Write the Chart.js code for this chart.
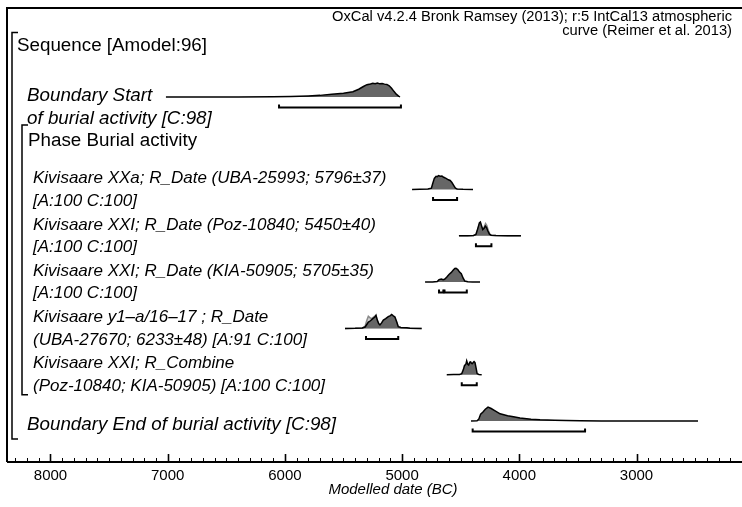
<!DOCTYPE html>
<html>
<head>
<meta charset="utf-8">
<script src="https://cdn.jsdelivr.net/npm/chart.js@4.4.0/dist/chart.umd.min.js"></script>
<style>
  body { margin: 0; background: #fff; }
  #grafico { display: block; }
</style>
</head>
<body>
<canvas id="grafico" width="742" height="507"></canvas>
<script>
// x axis (years BC, reversed)
const xTicks = [8000, 7000, 6000, 5000, 4000, 3000];
const xMin = 2100;
const xMax = 8371;

// row of every item (0 = Boundary Start ... 7 = Boundary End)
const itemRows = [0, 2, 3, 4, 5, 6, 7];
const itemNames = [
  ["Boundary Start", "of burial activity [C:98]"],
  ["Kivisaare XXa; R_Date (UBA-25993; 5796±37)", "[A:100 C:100]"],
  ["Kivisaare XXI; R_Date (Poz-10840; 5450±40)", "[A:100 C:100]"],
  ["Kivisaare XXI; R_Date (KIA-50905; 5705±35)", "[A:100 C:100]"],
  ["Kivisaare y1–a/16–17 ; R_Date", "(UBA-27670; 6233±48) [A:91 C:100]"],
  ["Kivisaare XXI; R_Combine", "(Poz-10840; KIA-50905) [A:100 C:100]"],
  ["Boundary End of burial activity [C:98]"]
];
const sequenceName = "Sequence [Amodel:96]";
const phaseName = "Phase Burial activity";
const headerLines = ["OxCal v4.2.4 Bronk Ramsey (2013); r:5 IntCal13 atmospheric", "curve (Reimer et al. 2013)"];
const axisTitle = "Modelled date (BC)";

// posterior curves [year BC, relative density]
const startDist = [[7015,0],[6400,0],[6100,0.01],[5950,0.03],[5800,0.07],[5700,0.11],[5600,0.19],[5500,0.27],[5420,0.37],[5370,0.55],[5330,0.75],[5300,0.88],[5270,0.93],[5250,0.98],[5230,0.95],[5210,1],[5190,0.94],[5170,0.97],[5150,0.92],[5130,0.9],[5110,0.8],[5090,0.62],[5070,0.4],[5050,0.2],[5030,0.06],[5018,0]];
const xxaDist = [[4915,0],[4850,0.01],[4780,0.03],[4750,0.1],[4740,0.4],[4725,0.8],[4710,0.95],[4700,0.92],[4690,1],[4675,0.95],[4660,0.97],[4645,0.88],[4625,0.8],[4605,0.7],[4590,0.65],[4575,0.5],[4560,0.3],[4545,0.1],[4530,0.04],[4480,0.01],[4395,0]];
const pozDist = [[4515,0],[4440,0.01],[4390,0.03],[4370,0.1],[4355,0.5],[4340,0.95],[4332,1],[4322,0.7],[4312,0.45],[4300,0.55],[4290,0.7],[4280,0.6],[4268,0.35],[4255,0.12],[4240,0.04],[4200,0.02],[4100,0.01],[3986,0]];
const kiaDist = [[4804,0],[4740,0.01],[4700,0.05],[4685,0.18],[4665,0.22],[4650,0.17],[4638,0.2],[4620,0.35],[4600,0.55],[4580,0.7],[4565,0.85],[4550,0.98],[4540,1],[4525,0.9],[4510,0.72],[4495,0.6],[4480,0.3],[4465,0.08],[4440,0.02],[4400,0.01],[4335,0]];
const y1Dist = [[5487,0],[5400,0.01],[5340,0.03],[5316,0.1],[5300,0.3],[5288,0.45],[5270,0.55],[5250,0.7],[5235,0.8],[5223,0.95],[5212,0.6],[5200,0.35],[5189,0.25],[5175,0.4],[5160,0.6],[5140,0.7],[5118,0.85],[5100,0.92],[5089,1],[5075,0.9],[5061,0.82],[5045,0.45],[5033,0.12],[5010,0.06],[4960,0.04],[4933,0.02],[4833,0]];
const combDist = [[4619,0],[4560,0.01],[4510,0.02],[4491,0.08],[4478,0.35],[4468,0.65],[4455,0.78],[4449,1],[4440,0.75],[4432,0.7],[4422,0.9],[4415,0.92],[4408,0.82],[4401,0.8],[4392,0.9],[4386,0.95],[4378,0.88],[4369,0.5],[4360,0.08],[4345,0.02],[4321,0]];
const endDist = [[4412,0],[4360,0.02],[4345,0.15],[4330,0.5],[4310,0.65],[4290,0.85],[4267,1],[4240,0.9],[4210,0.75],[4164,0.52],[4100,0.38],[4050,0.3],[3994,0.22],[3900,0.13],[3823,0.09],[3700,0.05],[3600,0.03],[3481,0.02],[3300,0.01],[3000,0.005],[2475,0]];

// unmodelled (light grey) curves, only where they show
const pozGrey = [[4515,0],[4440,0.01],[4390,0.03],[4370,0.1],[4355,0.45],[4340,0.85],[4332,0.9],[4322,0.65],[4312,0.45],[4300,0.65],[4288,0.88],[4278,0.75],[4265,0.4],[4252,0.12],[4240,0.04],[4200,0.02],[4100,0.01],[3986,0]];
const y1Grey = [[5487,0],[5400,0.01],[5340,0.03],[5316,0.15],[5300,0.6],[5288,0.88],[5275,0.78],[5260,0.7],[5240,0.85],[5223,0.92],[5212,0.6],[5200,0.3],[5189,0.2],[5175,0.32],[5160,0.5],[5140,0.6],[5118,0.72],[5100,0.78],[5089,0.85],[5075,0.78],[5061,0.7],[5045,0.4],[5033,0.1],[5010,0.05],[4960,0.03],[4933,0.02],[4833,0]];

// 95.4% ranges
const startRange = [[6050, 5010]];
const xxaRange = [[4736, 4531]];
const pozRange = [[4370, 4238]];
const kiaRange = [[4685, 4648], [4638, 4448]];
const y1Range = [[5308, 5033]];
const combRange = [[4491, 4363]];
const endRange = [[4398, 3439]];

const darkCurves = [startDist, xxaDist, pozDist, kiaDist, y1Dist, combDist, endDist];
const greyCurves = [null, null, pozGrey, null, y1Grey, null, null];
const ranges = [startRange, xxaRange, pozRange, kiaRange, y1Range, combRange, endRange];

const peakH = 0.3;   // height of a curve in rows
const brOff = 0.227; // range line below the baseline
const brTick = 0.065;

function curva(pts, row, fondo, borde, orden) {
  return {
    data: pts.map((p) => ({ x: p[0], y: row - p[1] * peakH })),
    fill: { value: row },
    backgroundColor: fondo,
    borderColor: borde,
    borderWidth: 1.5,
    pointRadius: 0,
    tension: 0,
    order: orden
  };
}

function rango(r, row) {
  const y = row + brOff;
  return {
    data: [
      { x: r[0], y: y - brTick }, { x: r[0], y: y },
      { x: r[1], y: y }, { x: r[1], y: y - brTick }
    ],
    fill: false,
    borderColor: "#000",
    borderWidth: 2,
    pointRadius: 0,
    tension: 0,
    order: 0
  };
}

const datasets = [];
itemRows.forEach((row, i) => {
  if (greyCurves[i]) datasets.push(curva(greyCurves[i], row, "#cfcfcf", "#8a8a8a", 2));
  datasets.push(curva(darkCurves[i], row, "#666666", "#000", 1));
  ranges[i].forEach((r) => datasets.push(rango(r, row)));
});

const fuente = (estilo, size) => `${estilo} ${size}px "Liberation Sans", Arial, sans-serif`;

// frame, inner ticks and all labels
const marco = {
  id: "marco",
  afterDraw(chart) {
    const ctx = chart.ctx;
    const a = chart.chartArea;
    const xs = chart.scales.x;
    const ys = chart.scales.y;
    ctx.save();
    ctx.strokeStyle = "#000";
    ctx.lineWidth = 2;
    ctx.beginPath();
    ctx.moveTo(a.left, a.bottom);
    ctx.lineTo(a.left, a.top);
    ctx.lineTo(a.right, a.top);
    ctx.moveTo(a.left, a.bottom);
    ctx.lineTo(a.right, a.bottom);
    ctx.stroke();

    for (let v = 2200; v <= 8300; v += 100) {
      const px = Math.round(xs.getPixelForValue(v)) + 0.5;
      const mayor = v % 1000 === 0;
      ctx.lineWidth = mayor ? 1.6 : 1;
      ctx.beginPath();
      ctx.moveTo(px, a.bottom);
      ctx.lineTo(px, a.bottom - (mayor ? 8 : 4));
      ctx.stroke();
    }

    // sequence and phase brackets
    const py = (r, d) => ys.getPixelForValue(r) + d;
    ctx.lineWidth = 1.5;
    ctx.beginPath();
    ctx.moveTo(18, py(-1, -18));
    ctx.lineTo(12, py(-1, -18));
    ctx.lineTo(12, py(7, 18));
    ctx.lineTo(18, py(7, 18));
    ctx.moveTo(28, py(0, 28));
    ctx.lineTo(22, py(0, 28));
    ctx.lineTo(22, py(6, 20));
    ctx.lineTo(28, py(6, 20));
    ctx.stroke();

    ctx.fillStyle = "#000";
    ctx.textBaseline = "middle";
    ctx.textAlign = "left";
    ctx.font = fuente("normal", 18.8);
    ctx.fillText(sequenceName, 17, py(-1, -5));
    ctx.fillText(phaseName, 28, py(1, -2));

    itemRows.forEach((row, i) => {
      const lines = itemNames[i];
      if (i === 0) {
        ctx.font = fuente("italic", 18.8);
        ctx.fillText(lines[0], 27, py(row, -1));
        ctx.fillText(lines[1], 27, py(row, 22));
      } else if (lines.length === 1) {
        ctx.font = fuente("italic", 18.8);
        ctx.fillText(lines[0], 27, py(row, 4));
      } else {
        ctx.font = fuente("italic", 17);
        ctx.fillText(lines[0], 33, py(row, -11));
        ctx.fillText(lines[1], 33, py(row, 11.5));
      }
    });

    ctx.textAlign = "right";
    ctx.font = fuente("normal", 14.7);
    ctx.fillText(headerLines[0], 732, 17);
    ctx.fillText(headerLines[1], 732, 31);

    ctx.textAlign = "center";
    ctx.font = fuente("italic", 15);
    ctx.fillText(axisTitle, 393, 490);
    ctx.restore();
  }
};

new Chart(document.getElementById("grafico"), {
  type: "line",
  data: { datasets: datasets },
  options: {
    responsive: false,
    animation: false,
    devicePixelRatio: 1,
    layout: { padding: { left: 7, top: 8, right: 0, bottom: 17 } },
    plugins: { legend: { display: false }, tooltip: { enabled: false } },
    scales: {
      x: {
        type: "linear",
        reverse: true,
        min: xMin,
        max: xMax,
        afterBuildTicks: (s) => { s.ticks = xTicks.map((v) => ({ value: v })); },
        grid: { display: false, drawTicks: false },
        border: { display: false },
        ticks: {
          padding: 5,
          color: "#000",
          maxRotation: 0,
          font: { family: '"Liberation Sans", Arial, sans-serif', size: 15 },
          callback: (v) => String(v)
        }
      },
      y: {
        type: "linear",
        display: false,
        reverse: true,
        min: -1.92,
        max: 7.885
      }
    }
  },
  plugins: [marco]
});
</script>
</body>
</html>
